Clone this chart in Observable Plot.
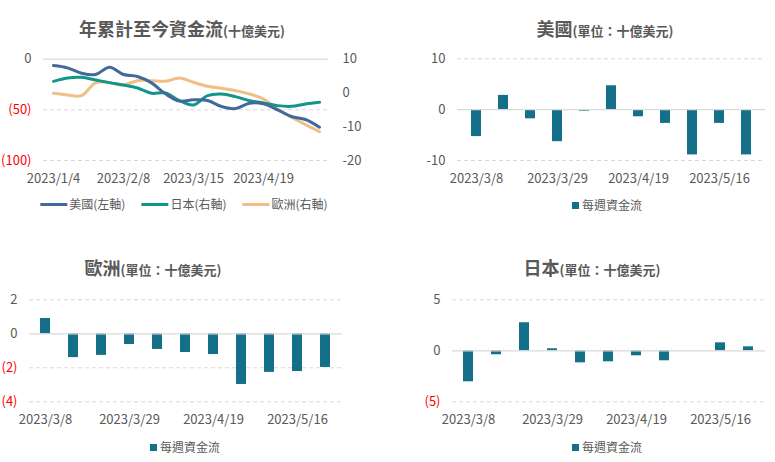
<!DOCTYPE html>
<html><head><meta charset="utf-8">
<script src="https://cdn.jsdelivr.net/npm/d3@7"></script>
<script src="https://cdn.jsdelivr.net/npm/@observablehq/plot@0.6"></script>
<style>
body{margin:0;background:#fff;font-family:"Noto Sans CJK TC","Noto Sans",sans-serif;}
#wrap{position:relative;width:775px;height:462px;overflow:hidden;background:#fff;}
.panel{position:absolute;}
.title{position:absolute;transform:translate(-50%,-50%);white-space:nowrap;color:#595959;font-weight:bold;line-height:1;}
.title .big{font-size:18px;}
.title .small{font-size:13px;}
.legend{position:absolute;transform:translate(-50%,-50%);white-space:nowrap;color:#595959;font-size:12px;display:flex;align-items:center;line-height:1;}
.legend .item{display:flex;align-items:center;margin:0 8px;}
.legend .ln{display:inline-block;width:27px;height:3px;margin-right:2px;}
.legend .sq{display:inline-block;width:7px;height:7px;margin-right:3px;}
</style>
</head><body>
<div id="wrap"></div>
<script>
// ---------- data ----------
const lineDates = ["2023/1/4","2023/1/11","2023/1/18","2023/1/25","2023/2/1","2023/2/8","2023/2/15","2023/2/22","2023/3/1","2023/3/8","2023/3/15","2023/3/22","2023/3/29","2023/4/5","2023/4/12","2023/4/19","2023/4/26","2023/5/3","2023/5/10","2023/5/17"];
const lineTickLabels = ["2023/1/4","2023/2/8","2023/3/15","2023/4/19"];
const usCum = [-6.3,-8.6,-13.8,-15.1,-7.9,-15.1,-17.1,-23.4,-34.2,-41.4,-40.1,-40.8,-46.7,-48.7,-43.4,-44.1,-50,-56.6,-59.5,-67.1];
const jpCum = [3.45,4.44,4.64,3.85,3.06,2.37,1.48,-0.1,0,-2.27,-3.55,-0.79,-0.3,-1.09,-2.27,-2.96,-3.75,-3.95,-3.26,-2.76];
const euCum = [-0.1,-0.6,-0.8,2.96,3.06,2.37,3.65,3.65,3.46,4.44,3.16,1.97,1.38,0.69,-0.3,-1.78,-4.74,-7.2,-9.38,-11.45];
const leftTicks = [0,-50,-100];
const rightTicks = [10,0,-10,-20];

const barDates = ["2023/3/8","2023/3/15","2023/3/22","2023/3/29","2023/4/5","2023/4/12","2023/4/19","2023/4/26","2023/5/9","2023/5/16","2023/5/23"];
const barTickLabels = ["2023/3/8","2023/3/29","2023/4/19","2023/5/16"];
const usWeekly = [-5.3,2.8,-1.8,-6.3,-0.3,4.7,-1.4,-2.7,-8.9,-2.7,-8.9];
const euWeekly = [0.9,-1.4,-1.27,-0.63,-0.92,-1.1,-1.22,-2.98,-2.27,-2.22,-1.98];
const jpWeekly = [-3.04,-0.39,2.75,0.2,-1.18,-1.08,-0.49,-0.98,0,0.78,0.39];
const usTicks = [10,0,-10];
const euTicks = [2,0,-2,-4];
const jpTicks = [5,0,-5];

// ---------- style ----------
const FONT = '"Noto Sans CJK TC","Noto Sans",sans-serif';
const GRAY = "#595959", RED = "#FF0000", GRID = "#D9D9D9";
const C_US = "#41699B", C_JP = "#12968A", C_EU = "#EFBF85", C_BAR = "#137088";
const wrap = document.getElementById("wrap");
const paren = d => d < 0 ? `(${-d})` : `${d}`;
const plain = d => `${d}`;

function place(node, left, top){
  const d = document.createElement("div");
  d.className = "panel"; d.style.left = left+"px"; d.style.top = top+"px";
  d.appendChild(node); wrap.appendChild(d);
}
function title(big, small, cx, cy){
  const d = document.createElement("div");
  d.className = "title"; d.style.left = cx+"px"; d.style.top = cy+"px";
  d.innerHTML = `<span class="big">${big}</span><span class="small">${small}</span>`;
  wrap.appendChild(d);
}
function legend(items, cx, cy){
  const d = document.createElement("div");
  d.className = "legend"; d.style.left = cx+"px"; d.style.top = cy+"px";
  d.innerHTML = items.map(it => `<span class="item"><span class="${it.kind}" style="background:${it.color}"></span>${it.label}</span>`).join("");
  wrap.appendChild(d);
}

// ---------- panel 1: cumulative lines ----------
const toLeft = r => (r - 10) * 100 / 30;   // right axis [-20,10] -> left axis [-100,0]
const lineData = [];
lineDates.forEach((d,i) => {
  lineData.push({date:d, v:usCum[i], s:"美國"});
  lineData.push({date:d, v:toLeft(jpCum[i]), s:"日本"});
  lineData.push({date:d, v:toLeft(euCum[i]), s:"歐洲"});
});
const p1 = Plot.plot({
  width: 390, height: 150,
  marginTop: 13.7, marginBottom: 35, marginLeft: 43, marginRight: 62,
  style: {fontFamily: FONT, fontSize: "13px", color: GRAY, background: "transparent"},
  x: {type: "point", domain: lineDates, padding: 0.5, label: null},
  y: {domain: [-100, 0], label: null},
  marks: [
    Plot.ruleY([0], {stroke: GRID, strokeWidth: 1.2}),
    Plot.gridY(leftTicks.filter(d => d !== 0), {stroke: GRID, strokeOpacity: 1, strokeDasharray: "4,3"}),
    Plot.axisY(leftTicks.filter(d => d >= 0), {tickSize: 0, tickPadding: 12, tickFormat: paren, fill: GRAY, label: null}),
    Plot.axisY(leftTicks.filter(d => d < 0), {tickSize: 0, tickPadding: 12, tickFormat: paren, fill: RED, label: null}),
    Plot.axisY(rightTicks.map(toLeft), {anchor: "right", tickSize: 0, tickPadding: 14, tickFormat: d => plain(Math.round(d*30/100 + 10)), fill: GRAY, label: null}),
    Plot.axisX(lineTickLabels, {tickSize: 0, tickPadding: 13, fill: GRAY, label: null}),
    Plot.line(lineData.filter(d => d.s === "歐洲"), {x: "date", y: "v", stroke: C_EU, strokeWidth: 3, curve: "catmull-rom"}),
    Plot.line(lineData.filter(d => d.s === "日本"), {x: "date", y: "v", stroke: C_JP, strokeWidth: 3, curve: "catmull-rom"}),
    Plot.line(lineData.filter(d => d.s === "美國"), {x: "date", y: "v", stroke: C_US, strokeWidth: 3, curve: "catmull-rom"})
  ]
});
place(p1, 0, 45);
title("年累計至今資金流", "(十億美元)", 182, 28);
legend([
  {kind:"ln", color:C_US, label:"美國(左軸)"},
  {kind:"ln", color:C_JP, label:"日本(右軸)"},
  {kind:"ln", color:C_EU, label:"歐洲(右軸)"}
], 184, 204);

// ---------- bar panels ----------
function barPanel({values, left, top, width, mL, mR, mT, mB, height, ticks, redNeg}){
  const data = barDates.map((d,i) => ({date:d, v:values[i]}));
  const pos = ticks.filter(t => t >= 0), neg = ticks.filter(t => t < 0);
  const p = Plot.plot({
    width, height, marginTop: mT, marginBottom: mB, marginLeft: mL, marginRight: mR,
    style: {fontFamily: FONT, fontSize: "13px", color: GRAY, background: "transparent"},
    x: {type: "band", domain: barDates, paddingInner: 0.64, paddingOuter: 0.33, label: null},
    y: {domain: [d3.min(ticks), d3.max(ticks)], label: null},
    marks: [
      Plot.gridY(ticks.filter(t => t !== 0), {stroke: GRID, strokeOpacity: 1, strokeDasharray: "4,3"}),
      Plot.barY(data, {x: "date", y: "v", fill: C_BAR}),
      Plot.ruleY([0], {stroke: GRID, strokeWidth: 1.2}),
      Plot.axisY(pos, {tickSize: 0, tickPadding: 12, tickFormat: redNeg ? paren : plain, fill: GRAY, label: null}),
      Plot.axisY(neg, {tickSize: 0, tickPadding: 12, tickFormat: redNeg ? paren : plain, fill: redNeg ? RED : GRAY, label: null}),
      Plot.axisX(barTickLabels, {tickSize: 0, tickPadding: 13, fill: GRAY, label: null})
    ]
  });
  place(p, left, top);
}

barPanel({values: usWeekly, left: 390, top: 45, width: 385, height: 150, mL: 67, mR: 10, mT: 13.3, mB: 35, ticks: usTicks, redNeg: false});
title("美國", "(單位：十億美元)", 605, 28);
legend([{kind:"sq", color:C_BAR, label:"每週資金流"}], 607, 205);

barPanel({values: euWeekly, left: 0, top: 285, width: 390, height: 150, mL: 29, mR: 48, mT: 14.3, mB: 33.7, ticks: euTicks, redNeg: true});
title("歐洲", "(單位：十億美元)", 153, 267);
legend([{kind:"sq", color:C_BAR, label:"每週資金流"}], 185, 447);

barPanel({values: jpWeekly, left: 390, top: 285, width: 385, height: 150, mL: 62, mR: 10, mT: 14.3, mB: 33.7, ticks: jpTicks, redNeg: true});
title("日本", "(單位：十億美元)", 592, 267);
legend([{kind:"sq", color:C_BAR, label:"每週資金流"}], 607, 447);
</script>
</body></html>
